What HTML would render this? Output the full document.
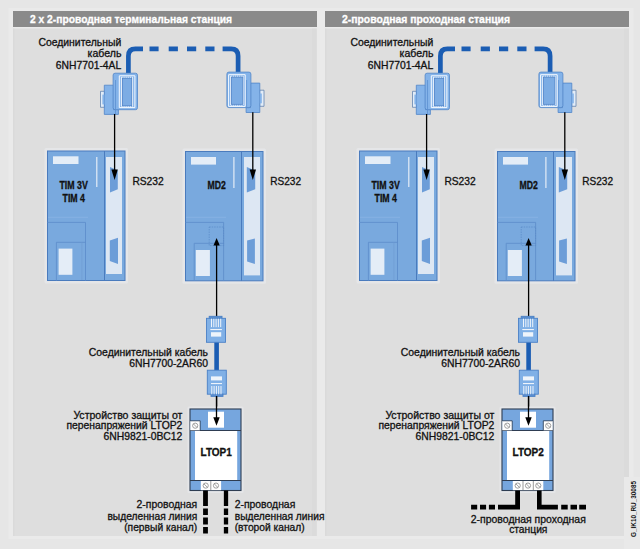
<!DOCTYPE html>
<html><head><meta charset="utf-8">
<style>
html,body{margin:0;padding:0;background:#e6e6e6;}
#c{position:relative;width:640px;height:549px;overflow:hidden;background:#e6e6e6;}
svg{position:absolute;left:0;top:0;}
text{font-family:"Liberation Sans",sans-serif;}
.t{font-size:10.4px;fill:#111;stroke:#111;stroke-width:0.3px;}
.b{font-weight:bold;stroke-width:0.3px;}
</style></head>
<body><div id="c">
<svg width="640" height="549" viewBox="0 0 640 549">
<!-- panels -->
<rect x="8.5" y="8" width="625" height="531" fill="#eaeaea"/>
<rect x="13" y="11" width="304" height="16" fill="#8a8a8a"/>
<rect x="325" y="11" width="304" height="16" fill="#8a8a8a"/>
<rect x="13" y="28.5" width="304" height="507.5" fill="#dedede"/>
<rect x="13" y="28.5" width="1.5" height="507.5" fill="#dadada"/>
<rect x="312" y="28.5" width="4.5" height="507.5" fill="#dbdbdb"/>
<rect x="325" y="28.5" width="304" height="507.5" fill="#dedede"/>
<rect x="325" y="28.5" width="1.5" height="507.5" fill="#dadada"/>
<rect x="624" y="28.5" width="5" height="507.5" fill="#dbdbdb"/>
<text x="30" y="23" class="b" font-size="10.4" fill="#fff" stroke="#fff" stroke-width="0.25" textLength="202" lengthAdjust="spacingAndGlyphs">2 x 2-проводная терминальная станция</text>
<text x="342" y="23" class="b" font-size="10.4" fill="#fff" stroke="#fff" stroke-width="0.25" textLength="168" lengthAdjust="spacingAndGlyphs">2-проводная проходная станция</text>

<g id="P">
<g id="halo" fill="#e5e6e8">
<rect x="44.5" y="148" width="83.5" height="135.5" rx="1.5"/>
<rect x="182.5" y="148.5" width="83.5" height="135.3" rx="1.5"/>
</g>
<!-- cable 1 -->
<path d="M128.4 73 V56 Q128.4 48.9 135.4 48.9 H143" fill="none" stroke="#1b5db3" stroke-width="4.7"/>
<path d="M149.5 48.9 H158.6 M168.7 48.9 H177.9 M187 48.9 H196.2 M205.3 48.9 H214.5" fill="none" stroke="#1b5db3" stroke-width="4.7"/>
<path d="M222.6 48.9 H231.1 Q238.1 48.9 238.1 56 V73" fill="none" stroke="#1b5db3" stroke-width="4.7"/>
<!-- connector left -->
<g stroke="#5085c8" stroke-width="0.8" fill="#84b3e9">
<path d="M100.5 91.3 H104.5 V107.3 H100.5 Z" fill="#e3edf8" stroke="#6585b0"/>
<path d="M104.3 85.2 H113.5 V109.6 H118.4 V114.4 H104.3 Z"/>
<rect x="113.1" y="73.2" width="24.4" height="36.5" rx="2"/>
</g>
<rect x="102.4" y="94.6" width="2" height="9.8" fill="#84b3e9"/>
<line x1="115.5" y1="80" x2="115.5" y2="114" stroke="#5c8fd0" stroke-width="0.8"/>
<g fill="none" stroke="#f8fbff" stroke-width="1">
<path d="M119.3 107.6 V75.8 H134.9 V107.6 Z"/>
<path d="M121.4 77.3 V106.2 M132.6 77.3 V106.2"/>
<path d="M121.4 77.3 H132.6 M121.4 106.3 H132.6" stroke-dasharray="1.2 0.9"/>
</g>
<rect x="122.3" y="78.2" width="9.5" height="27.6" fill="#7cacE4" stroke="#4f80c4" stroke-width="0.7"/>
<!-- connector right -->
<g stroke="#5085c8" stroke-width="0.8" fill="#84b3e9">
<path d="M259.7 90.2 H264 V106.3 H259.7 Z" fill="#e3edf8" stroke="#6585b0"/>
<path d="M250.5 83.1 H259.8 V112.5 H246.1 V107.6 H250.5 Z"/>
<rect x="226.9" y="72.1" width="24" height="35.5" rx="2"/>
</g>
<rect x="259.8" y="93.5" width="2" height="9.8" fill="#84b3e9"/>
<line x1="246.6" y1="80" x2="246.6" y2="107.5" stroke="#5c8fd0" stroke-width="0.8"/>
<g fill="none" stroke="#f8fbff" stroke-width="1">
<path d="M228.6 106.4 V74.7 H245.2 V106.4 Z"/>
<path d="M230.7 76.2 V105 M243.2 76.2 V105"/>
<path d="M230.7 76.2 H243.2 M230.7 105 H243.2" stroke-dasharray="1.2 0.9"/>
</g>
<rect x="231.3" y="77.1" width="11.6" height="27.2" fill="#7cacE4" stroke="#4f80c4" stroke-width="0.7"/>

<!-- TIM module -->
<rect x="47.5" y="151" width="77.5" height="129.5" fill="#79a9de" stroke="#4a7bbd" stroke-width="1"/>
<line x1="104.5" y1="151" x2="104.5" y2="280.5" stroke="#4a7bbd" stroke-width="1"/>
<rect x="106" y="157" width="16" height="117" fill="#dde7f3"/>
<rect x="53" y="156.3" width="25.5" height="7.7" fill="#e4edf7"/>
<rect x="96.2" y="157" width="1.2" height="30" fill="#e4edf7"/>
<path d="M110 167 L117.8 170.5 V189.2 L110 192.4 Z" fill="#6c9dd8"/>
<path d="M109.8 240.6 L118 237.7 V263.9 L109.8 261 Z" fill="#6c9dd8"/>
<rect x="48" y="216.8" width="40" height="0.9" fill="#88b3e4"/>
<path d="M47.5 222.4 H85.5 V280.5" fill="none" stroke="#5f8fcc" stroke-width="0.9"/>
<path d="M56.4 280.5 V242.3 H86" fill="none" stroke="#5f8fcc" stroke-width="0.9"/>
<line x1="81.9" y1="242" x2="81.9" y2="280" stroke="#6b98d0" stroke-width="0.6"/>
<rect x="58.6" y="248.6" width="13.8" height="26.2" fill="#e4edf7"/>
<text x="59.4" y="189.1" class="t b" font-size="9.2" textLength="28.4" lengthAdjust="spacingAndGlyphs">TIM 3V</text>
<text x="62.5" y="201.9" class="t b" font-size="9.2" textLength="22.5" lengthAdjust="spacingAndGlyphs">TIM 4</text>
<text x="132.4" y="184.8" class="t" textLength="31.3" lengthAdjust="spacingAndGlyphs">RS232</text>

<!-- MD2 module -->
<rect x="185.5" y="151.5" width="77.5" height="129.3" fill="#79a9de" stroke="#4a7bbd" stroke-width="1"/>
<line x1="241.5" y1="151.5" x2="241.5" y2="280.8" stroke="#4a7bbd" stroke-width="1"/>
<rect x="244" y="157" width="16" height="118.4" fill="#dde7f3"/>
<rect x="191" y="157" width="25" height="7.6" fill="#e4edf7"/>
<rect x="233.3" y="157" width="1.2" height="31" fill="#e4edf7"/>
<path d="M246.8 167 L255.2 170.5 V189.2 L246.8 192.6 Z" fill="#6c9dd8"/>
<path d="M247.1 240.5 L254.9 238.6 V264.1 L247.1 261.6 Z" fill="#6c9dd8"/>
<rect x="186" y="216.8" width="40" height="0.9" fill="#88b3e4"/>
<path d="M185.5 222.4 H223.6 V280.8" fill="none" stroke="#5f8fcc" stroke-width="0.9"/>
<path d="M194.2 280.8 V243.3 H223.6" fill="none" stroke="#5f8fcc" stroke-width="0.9"/>
<rect x="195.8" y="250" width="14.1" height="26" fill="#e4edf7"/>
<rect x="209.2" y="227" width="14.4" height="18.6" fill="none" stroke="#5a8bc8" stroke-width="0.7" stroke-dasharray="1.5 1"/>
<text x="216.6" y="189.2" class="t b" font-size="9.2" text-anchor="middle" textLength="18.3" lengthAdjust="spacingAndGlyphs">MD2</text>
<text x="270.2" y="184.8" class="t" textLength="30.8" lengthAdjust="spacingAndGlyphs">RS232</text>

<!-- arrows from connectors -->
<line x1="114.6" y1="114" x2="114.6" y2="172" stroke="#000" stroke-width="1.3"/>
<path d="M111.4 169.6 H117.8 L114.6 180.1 Z" fill="#000"/>
<line x1="252.8" y1="112.3" x2="252.8" y2="172" stroke="#000" stroke-width="1.3"/>
<path d="M249.6 169.6 H256 L252.8 180 Z" fill="#000"/>

<!-- RJ45 cable -->
<line x1="216.6" y1="281" x2="216.6" y2="316.5" stroke="#000" stroke-width="1.3"/>
<path d="M213.5 245.6 H219.8 L216.6 238 Z" fill="#000"/>
<line x1="216.6" y1="244" x2="216.6" y2="281" stroke="#000" stroke-width="1.3"/>
<rect x="214.3" y="342" width="4.6" height="28.5" fill="#1b5db3"/>
<g stroke="#4a80c6" stroke-width="0.9" fill="#80b0e6">
<rect x="209.2" y="316.3" width="12.8" height="2.2" fill="#5a8ed0"/>
<rect x="206.5" y="318.3" width="19" height="24"/>
<rect x="207.3" y="370.2" width="19" height="24"/>
<rect x="211" y="394.2" width="12" height="2.2" fill="#5a8ed0"/>
</g>
<g fill="#eef4fb">
<rect x="211" y="318.7" width="1" height="8.4"/><rect x="213.3" y="318.7" width="1" height="8.4"/><rect x="215.6" y="318.7" width="1" height="8.4"/><rect x="217.9" y="318.7" width="1" height="8.4"/><rect x="220.2" y="318.7" width="1" height="8.4"/>
<rect x="210.3" y="329" width="11.6" height="1.1"/>
<rect x="211" y="332.2" width="10.2" height="4.4"/>
<rect x="211.3" y="386" width="1" height="8.3"/><rect x="213.6" y="386" width="1" height="8.3"/><rect x="215.9" y="386" width="1" height="8.3"/><rect x="218.2" y="386" width="1" height="8.3"/><rect x="220.5" y="386" width="1" height="8.3"/>
<rect x="211" y="383" width="11" height="1.1"/>
<rect x="211" y="376.4" width="11" height="4"/>
</g>
<line x1="216.6" y1="396.4" x2="216.6" y2="420" stroke="#000" stroke-width="1.3"/>
<text x="208" y="356.4" class="t" text-anchor="end" textLength="119.2" lengthAdjust="spacingAndGlyphs">Соединительный кабель</text>
<text x="208" y="367.3" class="t" text-anchor="end" textLength="78.8" lengthAdjust="spacingAndGlyphs">6NH7700-2AR60</text>

<!-- cable 1 labels -->
<text x="121.2" y="45.9" class="t" text-anchor="end" textLength="82.8" lengthAdjust="spacingAndGlyphs">Соединительный</text>
<text x="121.4" y="57.4" class="t" text-anchor="end" textLength="33.8" lengthAdjust="spacingAndGlyphs">кабель</text>
<text x="121.2" y="68.6" class="t" text-anchor="end" textLength="65.4" lengthAdjust="spacingAndGlyphs">6NH7701-4AL</text>

<!-- LTOP labels -->
<text x="182.4" y="419.2" class="t" text-anchor="end" textLength="109" lengthAdjust="spacingAndGlyphs">Устройство защиты от</text>
<text x="182.4" y="429.3" class="t" text-anchor="end" textLength="116" lengthAdjust="spacingAndGlyphs">перенапряжений LTOP2</text>
<text x="182.4" y="440.3" class="t" text-anchor="end" textLength="79" lengthAdjust="spacingAndGlyphs">6NH9821-0BC12</text>
</g>

<!-- LTOP1 box -->
<rect x="187.5" y="406.5" width="56" height="86.5" rx="1.5" fill="#e5e6e8"/>
<rect x="190" y="409" width="51" height="81.5" fill="#76a6de" stroke="#2e3d52" stroke-width="1.1"/>
<rect x="208" y="411.7" width="16" height="16" fill="#fff"/>
<line x1="190" y1="430.5" x2="241" y2="430.5" stroke="#2e3d52" stroke-width="1"/>
<rect x="190.3" y="421" width="9.7" height="9.3" fill="#fff"/>
<path d="M190.3 420.8 H200.2 V430.3" fill="none" stroke="#2e3d52" stroke-width="0.8"/>
<rect x="195" y="431" width="42.2" height="49" fill="#fff"/>
<line x1="190" y1="480.5" x2="241" y2="480.5" stroke="#2e3d52" stroke-width="1"/>
<rect x="200.8" y="481" width="20.3" height="9.2" fill="#fff"/>
<line x1="210.8" y1="481" x2="210.8" y2="490" stroke="#555" stroke-width="0.6"/>
<g fill="none" stroke="#888" stroke-width="0.8">
<circle cx="195.2" cy="425.7" r="2.6"/><line x1="193.4" y1="423.9" x2="197" y2="427.5"/>
<circle cx="205.7" cy="485.6" r="2.6"/><line x1="203.9" y1="483.8" x2="207.5" y2="487.4"/>
<circle cx="216" cy="485.6" r="2.6"/><line x1="214.2" y1="483.8" x2="217.8" y2="487.4"/>
</g>
<line x1="216.5" y1="396" x2="216.5" y2="418" stroke="#000" stroke-width="1.3"/>
<path d="M213.3 417.3 H219.7 L216.5 425.8 Z" fill="#000"/>
<text x="216.2" y="455.8" class="t b" font-size="10.5" text-anchor="middle" textLength="31.3" lengthAdjust="spacingAndGlyphs">LTOP1</text>
<!-- bottom lines left -->
<path d="M205.5 490.5 V506 M205.5 508.5 V515 M205.5 517.6 V524.6 M205.5 527 V533.6" stroke="#000" stroke-width="4.8" fill="none"/>
<path d="M226 490.5 V506 M226 508.5 V515 M226 517.6 V524.6 M226 527 V533.6" stroke="#000" stroke-width="4.3" fill="none"/>
<text x="197.2" y="508.3" class="t" text-anchor="end" textLength="60.6" lengthAdjust="spacingAndGlyphs">2-проводная</text>
<text x="197.2" y="520" class="t" text-anchor="end" textLength="89.8" lengthAdjust="spacingAndGlyphs">выделенная линия</text>
<text x="197.2" y="531" class="t" text-anchor="end" textLength="73" lengthAdjust="spacingAndGlyphs">(первый канал)</text>
<text x="234.7" y="508.3" class="t" textLength="60.6" lengthAdjust="spacingAndGlyphs">2-проводная</text>
<text x="234.7" y="520" class="t" textLength="89.8" lengthAdjust="spacingAndGlyphs">выделенная линия</text>
<text x="234.7" y="531" class="t" textLength="70" lengthAdjust="spacingAndGlyphs">(второй канал)</text>

<!-- right panel copy -->
<g transform="translate(312,0)">
<g  fill="#e5e6e8">
<rect x="44.5" y="148" width="83.5" height="135.5" rx="1.5"/>
<rect x="182.5" y="148.5" width="83.5" height="135.3" rx="1.5"/>
</g>
<!-- cable 1 -->
<path d="M128.4 73 V56 Q128.4 48.9 135.4 48.9 H143" fill="none" stroke="#1b5db3" stroke-width="4.7"/>
<path d="M149.5 48.9 H158.6 M168.7 48.9 H177.9 M187 48.9 H196.2 M205.3 48.9 H214.5" fill="none" stroke="#1b5db3" stroke-width="4.7"/>
<path d="M222.6 48.9 H231.1 Q238.1 48.9 238.1 56 V73" fill="none" stroke="#1b5db3" stroke-width="4.7"/>
<!-- connector left -->
<g stroke="#5085c8" stroke-width="0.8" fill="#84b3e9">
<path d="M100.5 91.3 H104.5 V107.3 H100.5 Z" fill="#e3edf8" stroke="#6585b0"/>
<path d="M104.3 85.2 H113.5 V109.6 H118.4 V114.4 H104.3 Z"/>
<rect x="113.1" y="73.2" width="24.4" height="36.5" rx="2"/>
</g>
<rect x="102.4" y="94.6" width="2" height="9.8" fill="#84b3e9"/>
<line x1="115.5" y1="80" x2="115.5" y2="114" stroke="#5c8fd0" stroke-width="0.8"/>
<g fill="none" stroke="#f8fbff" stroke-width="1">
<path d="M119.3 107.6 V75.8 H134.9 V107.6 Z"/>
<path d="M121.4 77.3 V106.2 M132.6 77.3 V106.2"/>
<path d="M121.4 77.3 H132.6 M121.4 106.3 H132.6" stroke-dasharray="1.2 0.9"/>
</g>
<rect x="122.3" y="78.2" width="9.5" height="27.6" fill="#7cacE4" stroke="#4f80c4" stroke-width="0.7"/>
<!-- connector right -->
<g stroke="#5085c8" stroke-width="0.8" fill="#84b3e9">
<path d="M259.7 90.2 H264 V106.3 H259.7 Z" fill="#e3edf8" stroke="#6585b0"/>
<path d="M250.5 83.1 H259.8 V112.5 H246.1 V107.6 H250.5 Z"/>
<rect x="226.9" y="72.1" width="24" height="35.5" rx="2"/>
</g>
<rect x="259.8" y="93.5" width="2" height="9.8" fill="#84b3e9"/>
<line x1="246.6" y1="80" x2="246.6" y2="107.5" stroke="#5c8fd0" stroke-width="0.8"/>
<g fill="none" stroke="#f8fbff" stroke-width="1">
<path d="M228.6 106.4 V74.7 H245.2 V106.4 Z"/>
<path d="M230.7 76.2 V105 M243.2 76.2 V105"/>
<path d="M230.7 76.2 H243.2 M230.7 105 H243.2" stroke-dasharray="1.2 0.9"/>
</g>
<rect x="231.3" y="77.1" width="11.6" height="27.2" fill="#7cacE4" stroke="#4f80c4" stroke-width="0.7"/>

<!-- TIM module -->
<rect x="47.5" y="151" width="77.5" height="129.5" fill="#79a9de" stroke="#4a7bbd" stroke-width="1"/>
<line x1="104.5" y1="151" x2="104.5" y2="280.5" stroke="#4a7bbd" stroke-width="1"/>
<rect x="106" y="157" width="16" height="117" fill="#dde7f3"/>
<rect x="53" y="156.3" width="25.5" height="7.7" fill="#e4edf7"/>
<rect x="96.2" y="157" width="1.2" height="30" fill="#e4edf7"/>
<path d="M110 167 L117.8 170.5 V189.2 L110 192.4 Z" fill="#6c9dd8"/>
<path d="M109.8 240.6 L118 237.7 V263.9 L109.8 261 Z" fill="#6c9dd8"/>
<rect x="48" y="216.8" width="40" height="0.9" fill="#88b3e4"/>
<path d="M47.5 222.4 H85.5 V280.5" fill="none" stroke="#5f8fcc" stroke-width="0.9"/>
<path d="M56.4 280.5 V242.3 H86" fill="none" stroke="#5f8fcc" stroke-width="0.9"/>
<line x1="81.9" y1="242" x2="81.9" y2="280" stroke="#6b98d0" stroke-width="0.6"/>
<rect x="58.6" y="248.6" width="13.8" height="26.2" fill="#e4edf7"/>
<text x="59.4" y="189.1" class="t b" font-size="9.2" textLength="28.4" lengthAdjust="spacingAndGlyphs">TIM 3V</text>
<text x="62.5" y="201.9" class="t b" font-size="9.2" textLength="22.5" lengthAdjust="spacingAndGlyphs">TIM 4</text>
<text x="132.4" y="184.8" class="t" textLength="31.3" lengthAdjust="spacingAndGlyphs">RS232</text>

<!-- MD2 module -->
<rect x="185.5" y="151.5" width="77.5" height="129.3" fill="#79a9de" stroke="#4a7bbd" stroke-width="1"/>
<line x1="241.5" y1="151.5" x2="241.5" y2="280.8" stroke="#4a7bbd" stroke-width="1"/>
<rect x="244" y="157" width="16" height="118.4" fill="#dde7f3"/>
<rect x="191" y="157" width="25" height="7.6" fill="#e4edf7"/>
<rect x="233.3" y="157" width="1.2" height="31" fill="#e4edf7"/>
<path d="M246.8 167 L255.2 170.5 V189.2 L246.8 192.6 Z" fill="#6c9dd8"/>
<path d="M247.1 240.5 L254.9 238.6 V264.1 L247.1 261.6 Z" fill="#6c9dd8"/>
<rect x="186" y="216.8" width="40" height="0.9" fill="#88b3e4"/>
<path d="M185.5 222.4 H223.6 V280.8" fill="none" stroke="#5f8fcc" stroke-width="0.9"/>
<path d="M194.2 280.8 V243.3 H223.6" fill="none" stroke="#5f8fcc" stroke-width="0.9"/>
<rect x="195.8" y="250" width="14.1" height="26" fill="#e4edf7"/>
<rect x="209.2" y="227" width="14.4" height="18.6" fill="none" stroke="#5a8bc8" stroke-width="0.7" stroke-dasharray="1.5 1"/>
<text x="216.6" y="189.2" class="t b" font-size="9.2" text-anchor="middle" textLength="18.3" lengthAdjust="spacingAndGlyphs">MD2</text>
<text x="270.2" y="184.8" class="t" textLength="30.8" lengthAdjust="spacingAndGlyphs">RS232</text>

<!-- arrows from connectors -->
<line x1="114.6" y1="114" x2="114.6" y2="172" stroke="#000" stroke-width="1.3"/>
<path d="M111.4 169.6 H117.8 L114.6 180.1 Z" fill="#000"/>
<line x1="252.8" y1="112.3" x2="252.8" y2="172" stroke="#000" stroke-width="1.3"/>
<path d="M249.6 169.6 H256 L252.8 180 Z" fill="#000"/>

<!-- RJ45 cable -->
<line x1="216.6" y1="281" x2="216.6" y2="316.5" stroke="#000" stroke-width="1.3"/>
<path d="M213.5 245.6 H219.8 L216.6 238 Z" fill="#000"/>
<line x1="216.6" y1="244" x2="216.6" y2="281" stroke="#000" stroke-width="1.3"/>
<rect x="214.3" y="342" width="4.6" height="28.5" fill="#1b5db3"/>
<g stroke="#4a80c6" stroke-width="0.9" fill="#80b0e6">
<rect x="209.2" y="316.3" width="12.8" height="2.2" fill="#5a8ed0"/>
<rect x="206.5" y="318.3" width="19" height="24"/>
<rect x="207.3" y="370.2" width="19" height="24"/>
<rect x="211" y="394.2" width="12" height="2.2" fill="#5a8ed0"/>
</g>
<g fill="#eef4fb">
<rect x="211" y="318.7" width="1" height="8.4"/><rect x="213.3" y="318.7" width="1" height="8.4"/><rect x="215.6" y="318.7" width="1" height="8.4"/><rect x="217.9" y="318.7" width="1" height="8.4"/><rect x="220.2" y="318.7" width="1" height="8.4"/>
<rect x="210.3" y="329" width="11.6" height="1.1"/>
<rect x="211" y="332.2" width="10.2" height="4.4"/>
<rect x="211.3" y="386" width="1" height="8.3"/><rect x="213.6" y="386" width="1" height="8.3"/><rect x="215.9" y="386" width="1" height="8.3"/><rect x="218.2" y="386" width="1" height="8.3"/><rect x="220.5" y="386" width="1" height="8.3"/>
<rect x="211" y="383" width="11" height="1.1"/>
<rect x="211" y="376.4" width="11" height="4"/>
</g>
<line x1="216.6" y1="396.4" x2="216.6" y2="420" stroke="#000" stroke-width="1.3"/>
<text x="208" y="356.4" class="t" text-anchor="end" textLength="119.2" lengthAdjust="spacingAndGlyphs">Соединительный кабель</text>
<text x="208" y="367.3" class="t" text-anchor="end" textLength="78.8" lengthAdjust="spacingAndGlyphs">6NH7700-2AR60</text>

<!-- cable 1 labels -->
<text x="121.2" y="45.9" class="t" text-anchor="end" textLength="82.8" lengthAdjust="spacingAndGlyphs">Соединительный</text>
<text x="121.4" y="57.4" class="t" text-anchor="end" textLength="33.8" lengthAdjust="spacingAndGlyphs">кабель</text>
<text x="121.2" y="68.6" class="t" text-anchor="end" textLength="65.4" lengthAdjust="spacingAndGlyphs">6NH7701-4AL</text>

<!-- LTOP labels -->
<text x="182.4" y="419.2" class="t" text-anchor="end" textLength="109" lengthAdjust="spacingAndGlyphs">Устройство защиты от</text>
<text x="182.4" y="429.3" class="t" text-anchor="end" textLength="116" lengthAdjust="spacingAndGlyphs">перенапряжений LTOP2</text>
<text x="182.4" y="440.3" class="t" text-anchor="end" textLength="79" lengthAdjust="spacingAndGlyphs">6NH9821-0BC12</text>
</g>


<!-- LTOP2 box -->
<g transform="translate(312,0)">
<rect x="187.5" y="406.5" width="56" height="86.5" rx="1.5" fill="#e5e6e8"/>
<rect x="190" y="409" width="51" height="81.5" fill="#76a6de" stroke="#2e3d52" stroke-width="1.1"/>
<rect x="208" y="411.7" width="16" height="16" fill="#fff"/>
<line x1="190" y1="430.5" x2="241" y2="430.5" stroke="#2e3d52" stroke-width="1"/>
<rect x="190.3" y="421" width="9.7" height="9.3" fill="#fff"/>
<path d="M190.3 420.8 H200.2 V430.3" fill="none" stroke="#2e3d52" stroke-width="0.8"/>
<rect x="231.5" y="421" width="9.2" height="9.3" fill="#fff"/>
<path d="M240.7 420.8 H231.3 V430.3" fill="none" stroke="#2e3d52" stroke-width="0.8"/>
<rect x="195" y="431" width="42.2" height="49" fill="#fff"/>
<line x1="190" y1="480.5" x2="241" y2="480.5" stroke="#2e3d52" stroke-width="1"/>
<rect x="200.8" y="481" width="30.5" height="9.2" fill="#fff"/>
<line x1="211" y1="481" x2="211" y2="490" stroke="#555" stroke-width="0.6"/>
<line x1="221.3" y1="481" x2="221.3" y2="490" stroke="#555" stroke-width="0.6"/>
<g fill="none" stroke="#888" stroke-width="0.8">
<circle cx="195.2" cy="425.7" r="2.6"/><line x1="193.4" y1="423.9" x2="197" y2="427.5"/>
<circle cx="236.2" cy="425.7" r="2.6"/><line x1="234.4" y1="423.9" x2="238" y2="427.5"/>
<circle cx="205.7" cy="485.6" r="2.6"/><line x1="203.9" y1="483.8" x2="207.5" y2="487.4"/>
<circle cx="216" cy="485.6" r="2.6"/><line x1="214.2" y1="483.8" x2="217.8" y2="487.4"/>
<circle cx="226.3" cy="485.6" r="2.6"/><line x1="224.5" y1="483.8" x2="228.1" y2="487.4"/>
</g>
<line x1="216.5" y1="396" x2="216.5" y2="418" stroke="#000" stroke-width="1.3"/>
<path d="M213.3 417.3 H219.7 L216.5 425.8 Z" fill="#000"/>
<text x="216.2" y="455.8" class="t b" font-size="10.5" text-anchor="middle" textLength="31.3" lengthAdjust="spacingAndGlyphs">LTOP2</text>
</g>
<!-- bottom lines right -->
<path d="M517.6 490.5 V507.1 H498 M495 507.1 H488.9 M486.1 507.1 H480 M477.2 507.1 H471.1" stroke="#000" stroke-width="4.8" fill="none"/>
<path d="M539.3 490.5 V507.1 H557.9 M561.2 507.1 H567.7 M570.5 507.1 H577 M579.2 507.1 H586" stroke="#000" stroke-width="4.6" fill="none"/>
<text x="528.3" y="522.5" class="t" text-anchor="middle" textLength="115" lengthAdjust="spacingAndGlyphs">2-проводная проходная</text>
<text x="528.3" y="533.4" class="t" text-anchor="middle" textLength="38.3" lengthAdjust="spacingAndGlyphs">станция</text>
<rect x="624" y="477" width="16" height="72" fill="#e9e9e9"/>
<text x="0" y="0" transform="translate(636.2,537) rotate(-90)" font-size="7" font-weight="bold" fill="#111" textLength="56" lengthAdjust="spacingAndGlyphs">G_IK10_RU_30085</text>
</svg>
</div></body></html>
